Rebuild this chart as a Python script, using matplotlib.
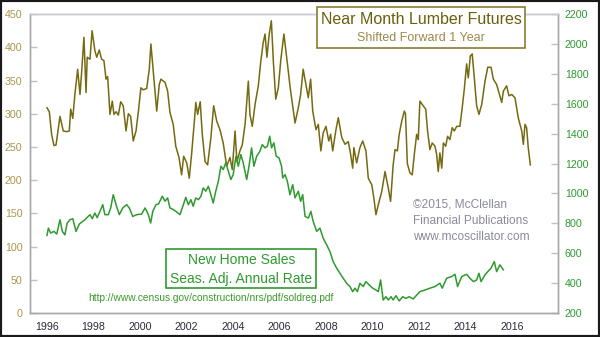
import matplotlib
matplotlib.use("Agg")
import matplotlib.pyplot as plt
from matplotlib.patches import Rectangle

plt.rcParams['font.family'] = ['Liberation Sans', 'DejaVu Sans']

# Lumber futures (left axis), shifted forward 1 year
lumber_year = [1996.00, 1996.10, 1996.20, 1996.30, 1996.39, 1996.49, 1996.56, 1996.70, 1996.85, 1996.96,
               1997.02, 1997.11, 1997.20, 1997.32, 1997.42, 1997.49, 1997.59, 1997.68, 1997.73, 1997.85,
               1997.94, 1998.06, 1998.14, 1998.25, 1998.35, 1998.45, 1998.54, 1998.61, 1998.71, 1998.81,
               1998.88, 1998.97, 1999.07, 1999.17, 1999.28, 1999.40, 1999.50, 1999.60, 1999.71, 1999.83,
               1999.93, 2000.04, 2000.14, 2000.29, 2000.40, 2000.47, 2000.57, 2000.72, 2000.83, 2000.90,
               2001.08, 2001.19, 2001.29, 2001.43, 2001.54, 2001.68, 2001.79, 2001.88, 2002.01, 2002.12,
               2002.22, 2002.34, 2002.40, 2002.48, 2002.59, 2002.68, 2002.80, 2002.91, 2003.05, 2003.17,
               2003.30, 2003.44, 2003.58, 2003.73, 2003.87, 2003.97, 2004.09, 2004.17, 2004.30, 2004.40,
               2004.52, 2004.66, 2004.73, 2004.83, 2004.95, 2005.09, 2005.20, 2005.30, 2005.38, 2005.46,
               2005.56, 2005.65, 2005.74, 2005.84, 2005.95, 2006.06, 2006.19, 2006.31, 2006.38, 2006.45,
               2006.57, 2006.67, 2006.81, 2006.91, 2007.02, 2007.14, 2007.24, 2007.34, 2007.43, 2007.57,
               2007.67, 2007.78, 2007.88, 2008.00, 2008.12, 2008.20, 2008.29, 2008.43, 2008.53, 2008.68,
               2008.82, 2008.96, 2009.06, 2009.15, 2009.20, 2009.32, 2009.46, 2009.58, 2009.72, 2009.82,
               2009.97, 2010.06, 2010.15, 2010.25, 2010.40, 2010.54, 2010.68, 2010.78, 2010.89, 2010.97,
               2011.07, 2011.15, 2011.26, 2011.37, 2011.42, 2011.50, 2011.61, 2011.71, 2011.80, 2011.90,
               2011.97, 2012.04, 2012.18, 2012.29, 2012.37, 2012.47, 2012.57, 2012.69, 2012.76, 2012.83,
               2012.90, 2012.98, 2013.05, 2013.15, 2013.23, 2013.33, 2013.43, 2013.52, 2013.62, 2013.76,
               2013.86, 2013.95, 2014.05, 2014.12, 2014.21, 2014.29, 2014.38, 2014.48, 2014.58, 2014.70,
               2014.84, 2014.96, 2015.10, 2015.20, 2015.34, 2015.48, 2015.56, 2015.63, 2015.77, 2015.87,
               2015.99, 2016.13, 2016.27, 2016.42, 2016.49, 2016.56, 2016.63, 2016.70, 2016.79]
lumber_price = [309, 303, 269, 252, 253, 279, 296, 274, 273, 274,
                307, 293, 329, 367, 329, 362, 415, 332, 385, 382,
                425, 395, 385, 396, 382, 380, 352, 356, 299, 319,
                299, 303, 298, 318, 312, 274, 300, 296, 259, 274,
                303, 339, 336, 338, 367, 405, 364, 304, 344, 352,
                347, 334, 302, 284, 251, 234, 208, 236, 226, 203,
                239, 289, 317, 299, 318, 269, 228, 223, 264, 312,
                289, 276, 256, 221, 234, 216, 274, 228, 244, 253,
                284, 349, 299, 281, 314, 342, 380, 407, 420, 385,
                420, 440, 377, 322, 339, 382, 420, 385, 364, 342,
                312, 286, 309, 329, 367, 344, 324, 352, 304, 276,
                284, 244, 271, 281, 259, 269, 244, 276, 294, 264,
                254, 258, 239, 218, 249, 226, 249, 259, 244, 203,
                193, 173, 148, 163, 183, 213, 188, 168, 223, 246,
                244, 269, 289, 304, 300, 225, 211, 208, 239, 269,
                261, 319, 312, 307, 274, 246, 256, 251, 239, 213,
                241, 218, 256, 251, 266, 261, 279, 274, 281, 281,
                309, 337, 375, 354, 387, 390, 354, 312, 299, 314,
                349, 370, 370, 352, 344, 327, 317, 334, 342, 327,
                329, 324, 294, 274, 254, 284, 279, 249, 223]

# New home sales, thousands SAAR (right axis)
sales_year = [1996.00, 1996.06, 1996.16, 1996.30, 1996.42, 1996.56, 1996.66, 1996.77, 1996.87, 1996.99,
              1997.11, 1997.25, 1997.39, 1997.54, 1997.63, 1997.85, 1997.95, 1998.06, 1998.16, 1998.28,
              1998.40, 1998.49, 1998.64, 1998.74, 1998.85, 1998.97, 1999.11, 1999.26, 1999.43, 1999.54,
              1999.69, 1999.86, 2000.07, 2000.22, 2000.36, 2000.46, 2000.55, 2000.69, 2000.80, 2000.96,
              2001.08, 2001.19, 2001.29, 2001.43, 2001.58, 2001.72, 2001.82, 2001.97, 2002.08, 2002.19,
              2002.29, 2002.40, 2002.51, 2002.62, 2002.72, 2002.83, 2002.94, 2003.05, 2003.15, 2003.26,
              2003.37, 2003.48, 2003.58, 2003.69, 2003.80, 2003.91, 2004.01, 2004.13, 2004.23, 2004.34,
              2004.44, 2004.59, 2004.69, 2004.80, 2004.90, 2005.02, 2005.16, 2005.26, 2005.38, 2005.48,
              2005.58, 2005.66, 2005.76, 2005.86, 2005.98, 2006.09, 2006.14, 2006.24, 2006.34, 2006.45,
              2006.57, 2006.67, 2006.81, 2006.91, 2007.00, 2007.10, 2007.24, 2007.35, 2007.45, 2007.60,
              2007.74, 2007.88, 2008.03, 2008.17, 2008.31, 2008.46, 2008.60, 2008.74, 2008.89, 2009.03,
              2009.15, 2009.25, 2009.35, 2009.46, 2009.60, 2009.72, 2009.86, 2010.01, 2010.15, 2010.25,
              2010.35, 2010.46, 2010.58, 2010.68, 2010.80, 2010.89, 2011.01, 2011.15, 2011.30, 2011.44,
              2011.58, 2011.75, 2012.04, 2012.26, 2012.47, 2012.69, 2012.90, 2013.00, 2013.19, 2013.41,
              2013.55, 2013.66, 2013.84, 2014.05, 2014.19, 2014.34, 2014.48, 2014.58, 2014.67, 2014.84,
              2014.96, 2015.10, 2015.24, 2015.34, 2015.48, 2015.63]
sales_k = [719, 768, 735, 746, 728, 824, 746, 723, 802, 824,
           831, 746, 795, 813, 824, 858, 831, 869, 838, 880,
           925, 858, 858, 903, 992, 925, 858, 903, 925, 903,
           846, 858, 862, 903, 858, 802, 880, 925, 930, 981,
           948, 970, 903, 892, 876, 858, 903, 974, 925, 958,
           914, 970, 958, 981, 1037, 1015, 1048, 992, 936, 1015,
           1081, 1182, 1160, 1205, 1148, 1093, 1126, 1249, 1182, 1260,
           1205, 1093, 1182, 1305, 1182, 1249, 1282, 1327, 1305, 1316,
           1383, 1305, 1339, 1249, 1238, 1182, 1104, 1126, 1081, 992,
           1059, 970, 1015, 947, 992, 846, 835, 880, 813, 746,
           768, 701, 656, 611, 544, 500, 466, 433, 399, 377,
           343, 366, 343, 399, 377, 410, 388, 366, 354, 343,
           421, 287, 309, 287, 309, 287, 316, 281, 309, 298,
           309, 294, 343, 354, 366, 377, 399, 366, 433, 444,
           459, 377, 444, 459, 433, 410, 421, 466, 410, 455,
           477, 500, 544, 477, 522, 489]

x_ticks = list(range(1996, 2017, 2))
left_ticks = list(range(0, 451, 50))
right_ticks = list(range(200, 2201, 200))

LUMBER = '#756a10'
GREEN = '#2f9a2f'
TAN = '#a8964c'
SPINE = '#a8a8a8'

fig = plt.figure(figsize=(6.0, 3.37), dpi=100)
ax = fig.add_axes([0.05, 0.0712, 0.88, 0.887])
ax2 = ax.twinx()

ax.plot(lumber_year, lumber_price, color=LUMBER, lw=1.1, zorder=3)
ax2.plot(sales_year, sales_k, color=GREEN, lw=1.1, zorder=3)

ax.set_xlim(1995.27, 2017.98)
ax.set_ylim(0, 450)
ax2.set_ylim(200, 2200)
ax.set_xticks(x_ticks)
ax.set_xticklabels([str(y) for y in x_ticks])
ax.set_yticks(left_ticks)
ax2.set_yticks(right_ticks)

ax.tick_params(axis='x', length=0, pad=6.5, labelsize=7.7, labelcolor='#2a2a3a')
ax.tick_params(axis='y', direction='in', length=5, width=1, color='#c0c0cc',
               pad=5.5, labelsize=7.7, labelcolor=TAN)
ax2.tick_params(axis='y', direction='in', length=5, width=1, color='#c0c0cc',
                pad=5, labelsize=7.7, labelcolor=GREEN)

for a in (ax, ax2):
    for s in a.spines.values():
        s.set_color(SPINE)
        s.set_linewidth(1)
    a.spines['top'].set_color('#c8c8d4')

# title box
fig.patches.append(Rectangle((0.528, 0.858), 0.347, 0.121, transform=fig.transFigure,
                             facecolor='white', edgecolor='#8c7c30', lw=1.2, zorder=5))
fig.text(0.702, 0.943, 'Near Month Lumber Futures', ha='center', va='center',
         fontsize=11.5, color='#6b5e0c', zorder=6)
fig.text(0.702, 0.886, 'Shifted Forward 1 Year', ha='center', va='center',
         fontsize=9, color='#9a8a4a', zorder=6)

# home sales box
fig.patches.append(Rectangle((0.277, 0.145), 0.250, 0.116, transform=fig.transFigure,
                             facecolor='white', edgecolor=GREEN, lw=1.2, zorder=5))
fig.text(0.402, 0.228, 'New Home Sales', ha='center', va='center',
         fontsize=10, color=GREEN, zorder=6)
fig.text(0.402, 0.172, 'Seas. Adj. Annual Rate', ha='center', va='center',
         fontsize=10, color=GREEN, zorder=6)

fig.text(0.351, 0.116, 'http://www.census.gov/construction/nrs/pdf/soldreg.pdf',
         ha='center', va='center', fontsize=7.3, color='#3a9a2a')

for yy, line in zip([0.392, 0.344, 0.298],
                    ['\u00a92015, McClellan', 'Financial Publications', 'www.mcoscillator.com']):
    fig.text(0.688, yy, line, ha='left', va='center', fontsize=8.6, color='#8a8a9c')

# outer frame
fig.patches.append(Rectangle((0, 0), 1, 1, transform=fig.transFigure, fill=False,
                             edgecolor='#1a1a1a', lw=3, zorder=10))

fig.savefig('out.png', dpi=100)
